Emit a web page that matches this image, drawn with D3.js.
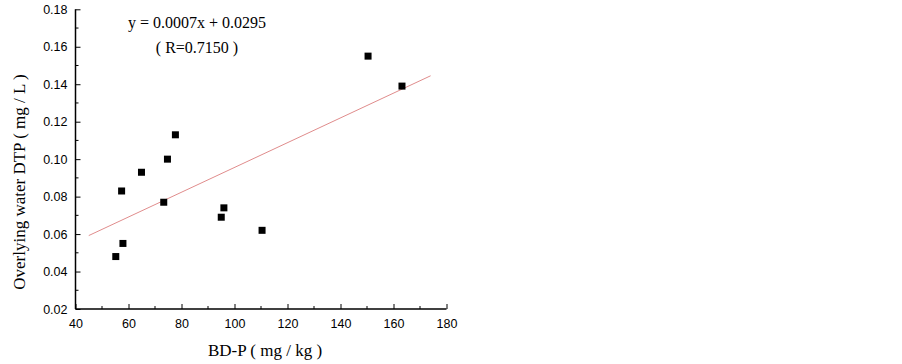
<!DOCTYPE html>
<html><head><meta charset="utf-8">
<script src="https://cdn.jsdelivr.net/npm/d3@7"></script>
<style>body{margin:0;background:#fff}svg{display:block}</style>
</head><body>
<svg id="c" width="902" height="364"></svg>
<script>
const bdP = [55.2, 57.9, 57.4, 64.9, 73.3, 74.7, 77.7, 95.0, 96.0, 110.4, 150.4, 163.2];
const dtp = [0.048, 0.055, 0.083, 0.093, 0.077, 0.100, 0.113, 0.069, 0.074, 0.062, 0.155, 0.139];
const fitX = [45, 174];
const fitY = [0.0592, 0.1445];
const xTicks = [40, 60, 80, 100, 120, 140, 160, 180];
const yTicks = [0.02, 0.04, 0.06, 0.08, 0.10, 0.12, 0.14, 0.16, 0.18];
const eqText = "y = 0.0007x + 0.0295";
const rText = "( R=0.7150 )";
const xTitle = "BD-P ( mg / kg )";
const yTitle = "Overlying water DTP ( mg / L )";

const svg = d3.select("#c");
const x = d3.scaleLinear().domain([40, 180]).range([75.5, 446.5]);
const y = d3.scaleLinear().domain([0.02, 0.18]).range([309, 9.3]);

const minorX = d3.range(50, 180, 20);
const minorY = d3.range(0.03, 0.18, 0.02);

const gx = svg.append("g").attr("class", "xaxis").attr("transform", `translate(0,${y(0.02)})`);
gx.call(d3.axisBottom(x).tickValues(xTicks).tickSize(-5).tickPadding(10).tickFormat(d3.format("d")));
gx.selectAll(".minor").data(minorX).enter().append("line")
  .attr("x1", d => x(d)).attr("x2", d => x(d)).attr("y1", 0).attr("y2", -3)
  .attr("stroke", "#000");
const gy = svg.append("g").attr("class", "yaxis").attr("transform", `translate(${x(40)},0)`);
gy.call(d3.axisLeft(y).tickValues(yTicks).tickSize(-5).tickPadding(8).tickFormat(d3.format(".2f")));
gy.selectAll(".minor").data(minorY).enter().append("line")
  .attr("y1", d => y(d)).attr("y2", d => y(d)).attr("x1", 0).attr("x2", 3)
  .attr("stroke", "#000");

svg.selectAll(".domain").attr("stroke", "#000").attr("stroke-width", 1.5);
gx.select(".domain").attr("d", `M${x(40)},0H${x(180)}`);
gy.select(".domain").attr("d", `M0,${y(0.02)}V${y(0.18)}`);
svg.selectAll(".tick line").attr("stroke", "#000");
svg.selectAll(".tick text").attr("font-family", "Liberation Sans, Arial, sans-serif").attr("font-size", 12.5).attr("fill", "#000");

svg.append("line")
  .attr("x1", x(fitX[0])).attr("y1", y(fitY[0]))
  .attr("x2", x(fitX[1])).attr("y2", y(fitY[1]))
  .attr("stroke", "#e08c8c").attr("stroke-width", 1);

svg.selectAll(".pt").data(bdP.map((v, i) => [v, dtp[i]])).enter().append("rect")
  .attr("x", d => x(d[0]) - 3.5).attr("y", d => y(d[1]) - 3.5)
  .attr("width", 7).attr("height", 7).attr("fill", "#000");

const serif = "Liberation Serif, Times New Roman, serif";
svg.append("text").attr("x", 197).attr("y", 28).attr("text-anchor", "middle")
  .attr("font-family", serif).attr("font-size", 16).text(eqText);
svg.append("text").attr("x", 197).attr("y", 53).attr("text-anchor", "middle")
  .attr("font-family", serif).attr("font-size", 16).text(rText);

svg.append("text").attr("x", 265).attr("y", 356).attr("text-anchor", "middle")
  .attr("font-family", serif).attr("font-size", 17).text(xTitle);
svg.append("text").attr("transform", "translate(25,182) rotate(-90)").attr("text-anchor", "middle")
  .attr("font-family", serif).attr("font-size", 17).text(yTitle);
</script>
</body></html>
